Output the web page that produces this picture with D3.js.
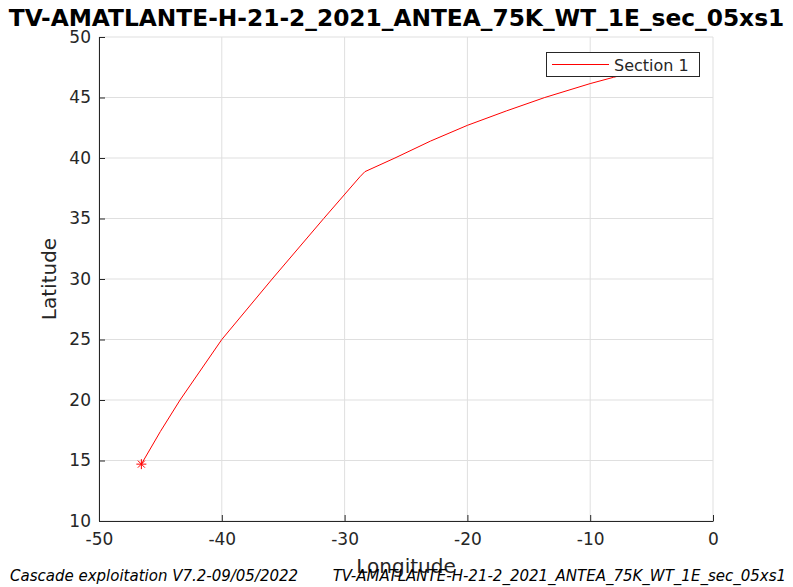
<!DOCTYPE html>
<html>
<head>
<meta charset="utf-8">
<script src="https://cdn.jsdelivr.net/npm/d3@7"></script>
<style>
  body { margin: 0; background: #fff; }
  text { font-family: "DejaVu Sans", sans-serif; }
</style>
</head>
<body>
<svg width="793" height="587"></svg>
<script>
// section track
var lon = [-46.55, -45.0, -43.4, -40.0, -35.9, -31.7, -28.75, -28.35, -25.9, -23.0, -20.0, -16.8, -13.7, -10.0, -8.1, -7.0];
var lat = [14.7, 17.4, 20.0, 25.0, 30.0, 35.0, 38.45, 38.87, 40.0, 41.4, 42.7, 43.9, 45.0, 46.15, 46.67, 46.95];
var xTicks = [-50, -40, -30, -20, -10, 0];
var yTicks = [10, 15, 20, 25, 30, 35, 40, 45, 50];
var title = "TV-AMATLANTE-H-21-2_2021_ANTEA_75K_WT_1E_sec_05xs1";
var seriesName = "Section 1";
var footLeft = "Cascade exploitation V7.2-09/05/2022";
var footRight = "TV-AMATLANTE-H-21-2_2021_ANTEA_75K_WT_1E_sec_05xs1";

var svg = d3.select("svg"),
    width = +svg.attr("width"),
    height = +svg.attr("height");

var mLeft = 99, mRight = 713, mTop = 37, mBottom = 521;
var axisColor = "#262626";

var x = d3.scaleLinear().domain([-50, 0]).range([mLeft, mRight]);
var y = d3.scaleLinear().domain([10, 50]).range([mBottom, mTop]);

// grid
var grid = svg.append("g").attr("stroke", "#dfdfdf").attr("stroke-width", 1);
grid.selectAll("line.gx").data(xTicks).enter().append("line")
    .attr("x1", function(d) { return x(d); }).attr("x2", function(d) { return x(d); })
    .attr("y1", mTop).attr("y2", mBottom);
grid.selectAll("line.gy").data(yTicks).enter().append("line")
    .attr("y1", function(d) { return y(d); }).attr("y2", function(d) { return y(d); })
    .attr("x1", mLeft).attr("x2", mRight);

// axes
var fmt = function(d) { return String(d); };
var xAxis = d3.axisBottom(x).tickValues(xTicks).tickFormat(fmt).tickSizeInner(-6).tickSizeOuter(0).tickPadding(12);
var yAxis = d3.axisLeft(y).tickValues(yTicks).tickFormat(fmt).tickSizeInner(-6).tickSizeOuter(0).tickPadding(12);

var gx = svg.append("g").attr("transform", "translate(0," + mBottom + ")").call(xAxis);
var gy = svg.append("g").attr("transform", "translate(" + mLeft + ",0)").call(yAxis);

[gx, gy].forEach(function(g) {
  g.select(".domain").attr("stroke", axisColor);
  g.selectAll(".tick line").attr("stroke", axisColor);
  g.selectAll(".tick text").attr("fill", axisColor)
    .style("font-family", "DejaVu Sans, sans-serif").style("font-size", "17px");
});
gy.selectAll(".tick text").attr("dx", "4");

// line
var pts = lon.map(function(d, i) { return [d, lat[i]]; });
var line = d3.line()
    .x(function(d) { return x(d[0]); }).y(function(d) { return y(d[1]); });
svg.append("path").datum(pts)
    .attr("d", line)
    .attr("fill", "none")
    .attr("stroke", "#ff0000")
    .attr("stroke-width", 1)
    .attr("stroke-linejoin", "round");

// start marker (asterisk)
var sx = x(lon[0]), sy = y(lat[0]), r = 5;
var star = svg.append("g").attr("stroke", "#ff0000").attr("stroke-width", 1);
[0, 45, 90, 135].forEach(function(a) {
  var t = a * Math.PI / 180;
  star.append("line")
    .attr("x1", sx - r * Math.cos(t)).attr("y1", sy - r * Math.sin(t))
    .attr("x2", sx + r * Math.cos(t)).attr("y2", sy + r * Math.sin(t));
});

// legend
var lg = svg.append("g");
lg.append("rect").attr("x", 546.5).attr("y", 52.5).attr("width", 153).attr("height", 24)
    .attr("fill", "#fff").attr("stroke", axisColor).attr("stroke-width", 1);
lg.append("line").attr("x1", 552).attr("x2", 609).attr("y1", 64.5).attr("y2", 64.5)
    .attr("stroke", "#ff0000").attr("stroke-width", 1);
lg.append("text").attr("x", 614).attr("y", 70.5).attr("fill", axisColor)
    .style("font-size", "16px").text(seriesName);

// labels
svg.append("text").attr("x", width / 2).attr("y", 26).attr("text-anchor", "middle")
    .attr("fill", "#000").style("font-size", "23.3px").style("font-weight", "bold")
    .text(title);

svg.append("text").attr("x", (mLeft + mRight) / 2).attr("y", 573).attr("text-anchor", "middle")
    .attr("fill", axisColor).style("font-size", "20px").text("Longitude");

svg.append("text").attr("transform", "translate(56," + (mTop + mBottom) / 2 + ") rotate(-90)")
    .attr("text-anchor", "middle").attr("fill", axisColor).style("font-size", "20px")
    .text("Latitude");

svg.append("text").attr("x", 10).attr("y", 581).attr("fill", "#000")
    .style("font-size", "15px").style("font-style", "italic").text(footLeft);
svg.append("text").attr("x", 786).attr("y", 581).attr("text-anchor", "end").attr("fill", "#000")
    .style("font-size", "15px").style("font-style", "italic").text(footRight);
</script>
</body>
</html>
